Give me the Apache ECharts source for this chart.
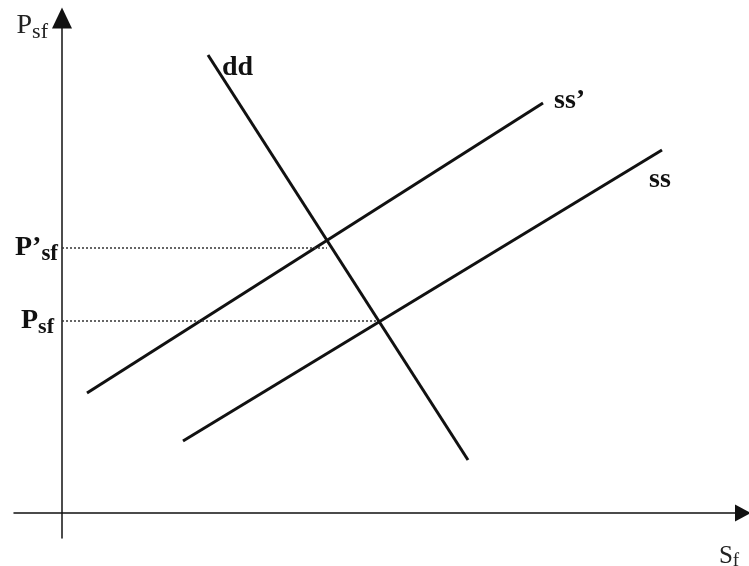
<!DOCTYPE html>
<html>
<head>
<meta charset="utf-8">
<script src="https://cdn.jsdelivr.net/npm/echarts@6/dist/echarts.min.js"></script>
<style>
    html, body { margin: 0; padding: 0; background: #fff; }
    #chart { width: 749px; height: 566px; }
</style>
</head>
<body>
<div id="chart"></div>
<script>
    // curves, in plot units (origin at the axes crossing)
    const ddLine = [[406, 53], [146, 458]];
    const ssPrimeLine = [[25, 120], [481, 410]];
    const ssLine = [[121, 72], [600, 363]];
    // price levels marked on the vertical axis
    const priceLevels = [192, 265];
    const priceNames = ["Psf", "P’sf"];
    // where each dotted guide stops (intersection with dd)
    const guideEnds = [315, 265];

    const serif = "Liberation Serif";

    function curve(name, data, label, labelOpt) {
        return {
            name: name,
            type: "line",
            data: data,
            symbol: "none",
            lineStyle: { color: "#111", width: 3 },
            endLabel: Object.assign({
                show: true,
                formatter: label,
                color: "#111",
                fontFamily: serif,
                fontWeight: "bold",
                fontSize: 28,
            }, labelOpt),
        };
    }

    const guides = priceLevels.map((p, i) => ({
        type: "line",
        data: [[0, p], [guideEnds[i], p]],
        symbol: "none",
        lineStyle: { color: "#333", width: 1.5, type: [2, 2] },
    }));

    const chart = echarts.init(document.getElementById("chart"));
    chart.setOption({
        animation: false,
        backgroundColor: "#fff",
        grid: { left: 14, right: 6, top: 18, bottom: 28, outerBoundsMode: "none", containLabel: false },
        xAxis: {
            type: "value",
            min: -48,
            max: 681,
            splitLine: { show: false },
            axisTick: { show: false },
            axisLabel: { show: false },
            axisLine: {
                onZero: true,
                symbol: ["none", "triangle"],
                symbolSize: [17, 16],
                lineStyle: { color: "#111", width: 1.5 },
            },
            name: "{a|S}{b|f}",
            nameLocation: "end",
            nameGap: -14,
            nameTextStyle: {
                align: "center",
                verticalAlign: "top",
                padding: [29, 0, 0, 0],
                rich: {
                    a: { fontFamily: serif, fontSize: 25, color: "#222" },
                    b: { fontFamily: serif, fontSize: 19, color: "#222", padding: [10, 0, 0, 0] },
                },
            },
        },
        yAxis: {
            type: "value",
            min: -25,
            max: 495,
            splitLine: { show: false },
            axisTick: { show: false },
            axisLine: {
                onZero: true,
                symbol: ["none", "triangle"],
                symbolSize: [20, 21],
                lineStyle: { color: "#111", width: 1.5 },
            },
            axisLabel: {
                customValues: priceLevels,
                margin: -44,
                formatter: (v) => {
                    const i = priceLevels.indexOf(v);
                    const n = priceNames[i];
                    return "{a|" + n.slice(0, -2) + "}{" + (i === 0 ? "c" : "b") + "|sf}";
                },
                rich: {
                    a: { fontFamily: serif, fontWeight: "bold", fontSize: 28, color: "#111" },
                    b: { fontFamily: serif, fontWeight: "bold", fontSize: 23, color: "#111", padding: [12, 0, 0, 0] },
                    c: { fontFamily: serif, fontWeight: "bold", fontSize: 22, color: "#111", padding: [12, 4, 0, 0] },
                },
            },
            name: "{a|P}{b|sf}",
            nameLocation: "end",
            nameGap: -8,
            nameTextStyle: {
                align: "right",
                verticalAlign: "middle",
                padding: [0, 14, 0, 0],
                rich: {
                    a: { fontFamily: serif, fontSize: 28, color: "#222" },
                    b: { fontFamily: serif, fontSize: 22, color: "#222", padding: [12, 0, 0, 0] },
                },
            },
        },
        series: [
            curve("dd", ddLine, "dd", { offset: [6, 13] }),
            curve("ss’", ssPrimeLine, "ss’", { offset: [3, -2] }),
            curve("ss", ssLine, "ss", { offset: [-21, 30] }),
        ].concat(guides),
    });
</script>
</body>
</html>
